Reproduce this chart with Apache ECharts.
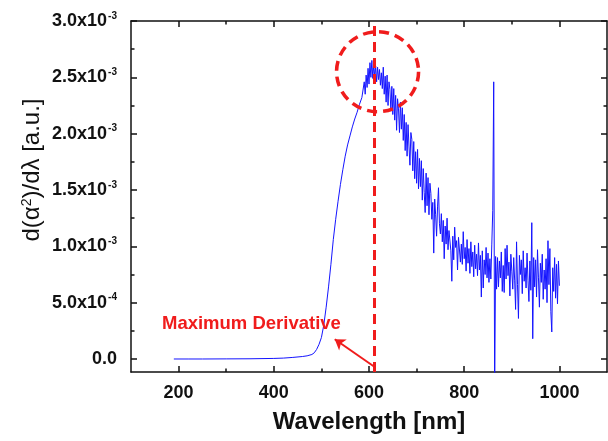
<!DOCTYPE html>
<html>
<head>
<meta charset="utf-8">
<script src="https://cdn.jsdelivr.net/npm/echarts@6/dist/echarts.min.js"></script>
<style>
html,body{margin:0;padding:0;background:#fff;}
#chart{width:608px;height:441px;}
</style>
</head>
<body>
<div id="chart"></div>
<script>
// Wavelength in nm
const wavelength = [
  190,220,250,300,350,400,420,440,460,470,480,485,490,495,500,505,510,515,520,525,
  530,535,540,545,550,555,560,565,570,575,580,585,
  590,592,594,596,598,600,602,604,606,608,
  610,612,614,616,618,620,622,624,626,628,
  630,632,634,636,638,640,642,644,646,648,
  650,652,654,656,658,660,662,664,666,668,
  670,672,674,676,678,680,682,684,686,688,
  690,692,694,696,698,700,702,704,706,708,
  710,712,714,716,718,720,722,724,726,728,
  730,732,734,736,738,740,742,744,746,748,
  750,752,754,756,758,760,762,764,766,768,
  770,772,774,776,778,780,782,784,786,788,
  790,792,794,796,798,800,802,804,806,808,
  810,812,814,816,818,820,822,824,826,828,
  830,832,834,836,838,840,842,844,846,848,
  850,852,854,856,858,860,862,864,866,868,
  870,872,874,876,878,880,882,884,886,888,
  890,892,894,896,898,900,902,904,906,908,
  910,912,914,916,918,920,922,924,926,928,
  930,932,934,936,938,940,942,944,946,948,
  950,952,954,956,958,960,962,964,966,968,
  970,972,974,976,978,980,982,984,986,988,
  990,992,994,996,998,1000
];
// d(alpha^2)/d lambda in units of 1e-4 a.u.
const derivative = [
  0.0,0.0,0.0,0.01,0.02,0.05,0.08,0.14,0.22,0.28,0.4,0.55,0.85,1.3,1.9,3.0,4.6,6.4,8.4,10.6,
  12.4,14.0,15.5,16.8,18.0,19.0,19.8,20.6,21.3,21.9,22.6,23.2,
  24.6,23.5,25.2,24.1,25.8,24.4,26.3,25.0,26.5,24.9,
  26.2,25.0,26.0,24.6,25.9,24.8,25.7,24.3,25.4,24.0,
  25.9,23.5,25.1,22.8,25.2,22.5,24.6,23.9,22.0,24.2,
  21.7,24.0,21.2,23.4,20.3,23.1,22.2,20.1,22.8,20.4,
  22.3,19.4,21.7,18.5,21.0,18.0,20.8,18.9,17.2,20.1,
  19.5,16.7,19.3,16.0,18.4,15.6,18.6,15.1,17.8,15.3,
  17.6,14.1,16.9,14.8,13.0,16.5,13.6,16.1,12.8,15.6,
  14.7,12.4,13.9,9.4,14.2,12.8,10.9,13.5,15.2,12.0,
  11.1,12.9,10.4,12.3,8.9,11.8,10.2,12.5,9.7,11.4,
  11.5,9.6,6.9,10.9,8.8,11.7,9.9,10.5,7.9,10.8,
  10.8,8.6,10.2,8.4,11.3,8.9,9.9,7.8,10.6,8.5,
  9.8,7.6,10.4,8.2,9.5,7.3,10.1,8.0,9.3,7.4,
  10.3,7.9,9.2,5.5,9.6,6.3,8.8,7.5,9.9,7.2,
  9.4,6.8,8.9,7.1,10.2,13.2,24.6,-3.0,9.1,6.2,
  9.0,6.4,8.7,7.2,9.5,6.0,8.3,5.9,9.8,7.1,
  10.1,7.4,8.6,5.6,9.3,7.8,6.2,9.0,7.0,4.4,
  10.4,6.6,3.6,9.2,7.5,8.8,5.8,9.6,6.9,8.1,
  6.3,9.4,7.0,5.1,8.7,6.1,12.1,1.8,9.0,6.4,
  8.8,5.5,9.7,7.2,4.6,8.5,6.8,9.3,5.3,7.9,
  6.2,8.9,5.0,10.5,6.6,9.8,4.2,2.4,8.1,6.0,
  9.0,5.4,8.4,4.9,8.7,6.5
];
// Tick values
const majorX = [200, 400, 600, 800, 1000];
const minorX = [300, 500, 700, 900];
const majorY = [0, 5, 10, 15, 20, 25, 30];
const minorY = [2.5, 7.5, 12.5, 17.5, 22.5, 27.5];
// Annotations (data coordinates)
const peakWavelength = [612];
const circleCenter = [618, 25.5];
const arrowFrom = [612, -0.71];
const arrowTo = [528, 1.75];
const annotationText = ['Maximum Derivative'];
const annotationPos = [353, 3.1];

const RED = '#f01c1c';
const FONT = '"Liberation Sans", Arial, sans-serif';

const chart = echarts.init(document.getElementById('chart'), null, {renderer: 'canvas'});

const gridRect = {left: 131, right: 1, top: 21, bottom: 69};
const xBase = {type: 'value', min: 100, max: 1100, splitLine: {show: false}};
const yBase = {type: 'value', min: -1.154, max: 30, splitLine: {show: false}};
const lineStyle = {color: '#111', width: 1.5};

function yLabel(v) {
  if (v === 0) return '{b|0.0}';
  if (v < 10) return '{b|' + v.toFixed(1) + 'x10}{s|-4}';
  return '{b|' + (v / 10).toFixed(1) + 'x10}{s|-3}';
}
const labelRich = {
  b: {fontFamily: FONT, fontWeight: 'bold', fontSize: 18, color: '#111', lineHeight: 20},
  s: {fontFamily: FONT, fontWeight: 'bold', fontSize: 10, color: '#111', verticalAlign: 'top', lineHeight: 10, padding: [0,0,0,1]}
};

const option = {
  animation: false,
  backgroundColor: '#fff',
  grid: [Object.assign({}, gridRect), Object.assign({}, gridRect)],
  xAxis: [
    Object.assign({}, xBase, {
      gridIndex: 0, position: 'bottom',
      axisLine: {show: true, onZero: false, lineStyle: lineStyle},
      axisTick: {show: true, inside: true, length: 6, customValues: majorX, lineStyle: lineStyle},
      axisLabel: {show: true, customValues: majorX, margin: 12, formatter: v => String(v),
                  fontFamily: FONT, fontWeight: 'bold', fontSize: 18, color: '#111'},
      name: 'Wavelength [nm]', nameLocation: 'middle', nameGap: 38,
      nameTextStyle: {fontFamily: FONT, fontWeight: 'bold', fontSize: 24, color: '#111'}
    }),
    Object.assign({}, xBase, {
      gridIndex: 0, position: 'top',
      axisLine: {show: true, onZero: false, lineStyle: lineStyle},
      axisTick: {show: true, inside: true, length: 6, customValues: majorX, lineStyle: lineStyle},
      axisLabel: {show: false}
    }),
    Object.assign({}, xBase, {
      gridIndex: 1, position: 'bottom',
      axisLine: {show: false, onZero: false},
      axisTick: {show: true, inside: true, length: 3.5, customValues: minorX, lineStyle: lineStyle},
      axisLabel: {show: false}
    }),
    Object.assign({}, xBase, {
      gridIndex: 1, position: 'top',
      axisLine: {show: false, onZero: false},
      axisTick: {show: true, inside: true, length: 3.5, customValues: minorX, lineStyle: lineStyle},
      axisLabel: {show: false}
    })
  ],
  yAxis: [
    Object.assign({}, yBase, {
      gridIndex: 0, position: 'left',
      axisLine: {show: true, onZero: false, lineStyle: lineStyle},
      axisTick: {show: true, inside: true, length: 6, customValues: majorY, lineStyle: lineStyle},
      axisLabel: {show: true, customValues: majorY, margin: 14, formatter: yLabel, rich: labelRich}
    }),
    Object.assign({}, yBase, {
      gridIndex: 0, position: 'right',
      axisLine: {show: true, onZero: false, lineStyle: lineStyle},
      axisTick: {show: true, inside: true, length: 6, customValues: majorY, lineStyle: lineStyle},
      axisLabel: {show: false}
    }),
    Object.assign({}, yBase, {
      gridIndex: 1, position: 'left',
      axisLine: {show: false, onZero: false},
      axisTick: {show: true, inside: true, length: 3.5, customValues: minorY, lineStyle: lineStyle},
      axisLabel: {show: false}
    }),
    Object.assign({}, yBase, {
      gridIndex: 1, position: 'right',
      axisLine: {show: false, onZero: false},
      axisTick: {show: true, inside: true, length: 3.5, customValues: minorY, lineStyle: lineStyle},
      axisLabel: {show: false}
    })
  ],
  series: [
    {
      type: 'line',
      xAxisIndex: 0, yAxisIndex: 0,
      data: wavelength.map((w, i) => [w, derivative[i]]),
      showSymbol: false,
      lineStyle: {color: '#1414ff', width: 1},
      itemStyle: {color: '#1414ff'},
      clip: true,
      z: 2,
      markLine: {
        silent: true,
        symbol: ['none', 'none'],
        label: {show: false},
        lineStyle: {color: RED, width: 3, type: [10, 6], opacity: 1},
        data: [{xAxis: peakWavelength[0]}]
      },
      markPoint: {
        silent: true,
        symbol: 'circle', symbolSize: 0,
        data: [{
          coord: annotationPos,
          label: {show: true, position: 'inside', formatter: annotationText[0],
                  fontFamily: FONT, fontWeight: 'bold', fontSize: 18.5, color: RED}
        }]
      }
    },
    {
      type: 'scatter',
      xAxisIndex: 0, yAxisIndex: 0,
      data: [circleCenter],
      symbol: 'circle',
      symbolSize: [82, 80],
      silent: true,
      itemStyle: {color: 'rgba(0,0,0,0)', borderColor: RED, borderWidth: 3.5, borderType: [10, 6], opacity: 1},
      z: 3
    },
    {
      type: 'line',
      xAxisIndex: 0, yAxisIndex: 0,
      data: [],
      markLine: {
        silent: true,
        symbol: ['none', 'arrow'],
        symbolSize: 10,
        label: {show: false},
        lineStyle: {color: RED, width: 2, type: 'solid', opacity: 1},
        data: [[{coord: arrowFrom}, {coord: arrowTo}]]
      }
    }
  ],
  graphic: [
    {
      type: 'text',
      x: 32, y: 170,
      rotation: Math.PI / 2,
      style: {
        text: 'd(α{s|2})/dλ [a.u.]',
        fontFamily: FONT, fontSize: 24, fill: '#111',
        align: 'center', verticalAlign: 'middle',
        rich: {s: {fontFamily: FONT, fontSize: 14, fill: '#111', verticalAlign: 'top', lineHeight: 12}}
      }
    }
  ]
};
chart.setOption(option);
</script>
</body>
</html>
